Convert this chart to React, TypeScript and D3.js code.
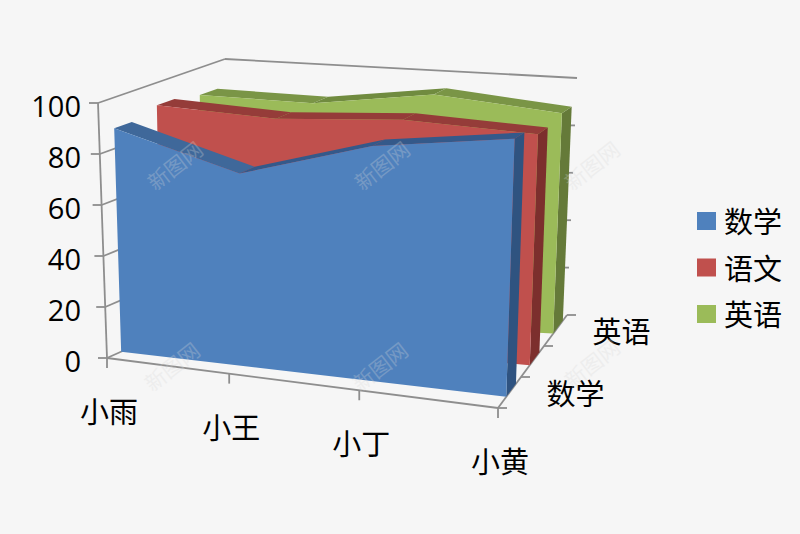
import * as d3 from 'd3';

const students = ['小雨', '小王', '小丁', '小黄'];
const subjects = ['数学', '语文', '英语'];
const mathScores = [88, 73, 86, 91];
const chineseScores = [91, 88, 90, 87];
const englishScores = [89, 88, 94, 89];
const valueTicks = [0, 20, 40, 60, 80, 100];
const depthLabels = ['数学', '英语'];

const seriesValues = [mathScores, chineseScores, englishScores];
const palette = [
  { face: '#4f81bd', top: '#3f689a', rise: '#34598a', side: '#2f5380' },
  { face: '#c0504d', top: '#953c39', rise: '#953c39', side: '#7c2f2d' },
  { face: '#9bbb59', top: '#7a9546', rise: '#708b3f', side: '#657a39' },
];

const width = 800;
const height = 534;

// corners of the 3d box on screen: [x, y]
const frontLeftBottom = [107, 358];
const frontRightBottom = [498, 408];
const backRightBottom = [567, 315];
const backLeftBottom = [225, 305];
const frontLeftTop = [98, 103];
const frontRightTop = [507, 118];
const backRightTop = [577, 78];
const backLeftTop = [225, 59];

const mix = (a: number[], b: number[], t: number) => [a[0] + (b[0] - a[0]) * t, a[1] + (b[1] - a[1]) * t];

// left side is further away, so the categories bunch up a little there
const warp = (u: number) => u / (u + 1.1 * (1 - u));

const uScale = d3.scalePoint<string>().domain(students).range([0, 1]);
const depthScale = d3.scaleBand<string>().domain(subjects).range([0.12, 0.94]).paddingInner(0.588);
const vScale = d3.scaleLinear().domain([0, 100]).range([0, 1]);

function project(u: number, t: number, value: number) {
  const w = warp(u);
  const bottom = mix(mix(frontLeftBottom, frontRightBottom, w), mix(backLeftBottom, backRightBottom, w), t);
  const top = mix(mix(frontLeftTop, frontRightTop, w), mix(backLeftTop, backRightTop, w), t);
  return mix(bottom, top, vScale(value));
}

const line = d3.line();
const poly = (pts: number[][]) => line(pts as [number, number][]) + 'Z';

const axisColor = '#8e8e8e';
const cjk = '"Noto Sans CJK SC", sans-serif';

function Stroke({ a, b }: { a: number[]; b: number[] }) {
  return <line x1={a[0]} y1={a[1]} x2={b[0]} y2={b[1]} stroke={axisColor} strokeWidth={1.8} />;
}

function Series({ index }: { index: number }) {
  const values = seriesValues[index];
  const colors = palette[index];
  const t0 = depthScale(subjects[index]) as number;
  const t1 = t0 + depthScale.bandwidth();
  const us = students.map((s) => uScale(s) as number);
  const front = us.map((u, i) => project(u, t0, values[i]));
  const baseFront = [project(1, t0, 0), project(0, t0, 0)];
  const n = us.length - 1;
  return (
    <g>
      <path d={poly([project(1, t0, 0), project(1, t1, 0), project(1, t1, values[n]), project(1, t0, values[n])])} fill={colors.side} />
      {us.slice(1).map((u, i) => (
        <path
          key={i}
          d={poly([
            project(us[i], t0, values[i]),
            project(us[i], t1, values[i]),
            project(u, t1, values[i + 1]),
            project(u, t0, values[i + 1]),
          ])}
          fill={values[i + 1] > values[i] ? colors.rise : colors.top}
        />
      ))}
      <path d={poly([...front, ...baseFront])} fill={colors.face} />
    </g>
  );
}

const watermarks = [
  [180, 172],
  [387, 172],
  [597, 172],
  [177, 373],
  [385, 373],
  [597, 370],
];

export default function App() {
  const blueBack = (depthScale(subjects[0]) as number) + depthScale.bandwidth();
  return (
    <svg width={width} height={height} style={{ position: 'absolute', left: 0, top: 0, background: '#f6f6f6' }}>
      {/* walls */}
      <Stroke a={backLeftTop} b={backRightTop} />
      <Stroke a={frontLeftTop} b={backLeftTop} />
      {valueTicks.slice(0, -1).map((v) => (
        <Stroke key={v} a={project(0, 0, v)} b={project(0, blueBack, v)} />
      ))}
      {valueTicks.slice(1, -1).map((v) => {
        const p = project(1, 1, v);
        return <Stroke key={v} a={[p[0] - 9, p[1]]} b={p} />;
      })}

      {/* floor edges and ticks */}
      <Stroke a={frontLeftBottom} b={frontRightBottom} />
      <Stroke a={frontRightBottom} b={backRightBottom} />
      <Stroke a={frontLeftTop} b={frontLeftBottom} />
      {students.map((s) => {
        const p = project(uScale(s) as number, 0, 0);
        return <Stroke key={s} a={p} b={[p[0], p[1] + 10]} />;
      })}
      {[0, 1 / 3, 2 / 3, 1].map((t) => {
        const p = project(1, t, 0);
        return <Stroke key={t} a={p} b={[p[0] + 9, p[1]]} />;
      })}
      {valueTicks.map((v) => {
        const p = project(0, 0, v);
        return <Stroke key={v} a={[p[0] - 9, p[1]]} b={p} />;
      })}

      {/* back to front */}
      {[2, 1, 0].map((i) => (
        <Series key={i} index={i} />
      ))}

      {valueTicks.map((v) => (
        <text
          key={v}
          x={81}
          y={project(0, 0, v)[1] + 14}
          textAnchor="end"
          fontFamily='"Open Sans", sans-serif'
          fontSize={29}
          fill="#000"
        >
          {v}
        </text>
      ))}
      {students.map((s) => {
        const p = project(uScale(s) as number, 0, 0);
        return (
          <text key={s} x={p[0] + 2} y={p[1] + 65} textAnchor="middle" fontFamily={cjk} fontSize={29} fill="#000">
            {s}
          </text>
        );
      })}
      {depthLabels.map((s, i) => {
        const p = project(1, [1 / 6, 5 / 6][i], 0);
        return (
          <text key={s} x={p[0] + 66} y={p[1] + 12} textAnchor="middle" fontFamily={cjk} fontSize={29} fill="#000">
            {s}
          </text>
        );
      })}

      {/* legend */}
      {subjects.map((s, i) => (
        <g key={s} transform={`translate(697,${212 + i * 46.5})`}>
          <rect width={19} height={18} fill={palette[i].face} />
          <text x={27} y={21} fontFamily={cjk} fontSize={29} fill="#000">
            {s}
          </text>
        </g>
      ))}

      {/* watermark */}
      {watermarks.map(([x, y], i) => (
        <text
          key={i}
          transform={`translate(${x},${y}) rotate(-38)`}
          textAnchor="middle"
          fontFamily={cjk}
          fontSize={21}
          fill="#d8d8d8"
          opacity={0.28}
        >
          新图网
        </text>
      ))}
    </svg>
  );
}
